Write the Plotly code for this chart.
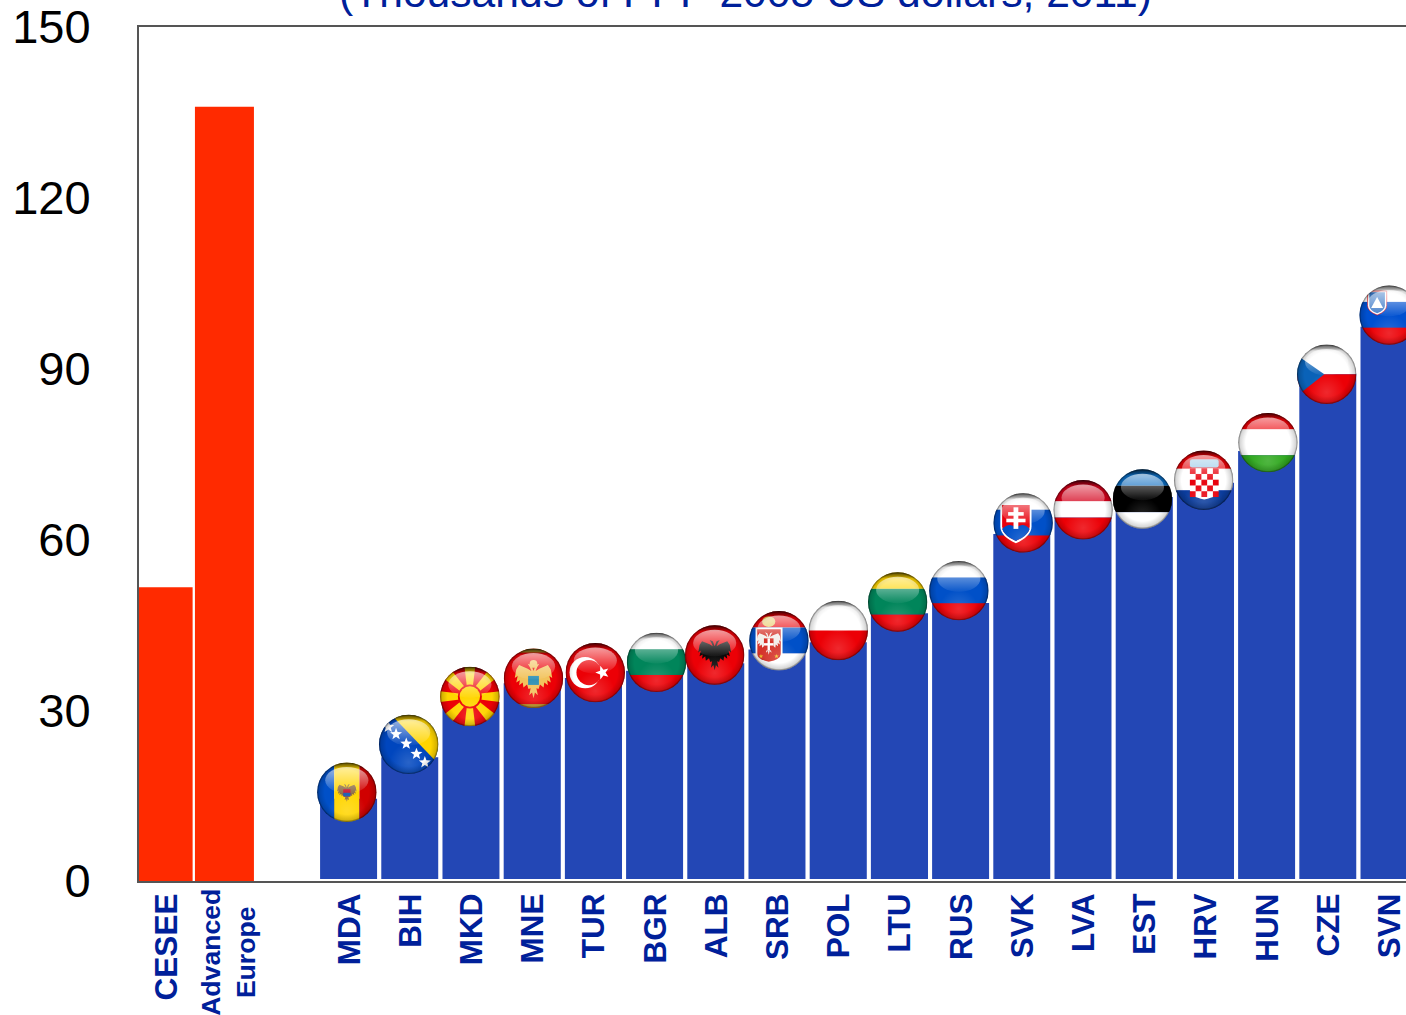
import base64, math
import plotly.graph_objects as go

# ---------- data ----------
aggregate_labels = ["CESEE", "Advanced<br>Europe"]
aggregate_values = [51.6, 136.0]
aggregate_pos = [-3.0, -2.03]
aggregate_width = [0.90, 0.964]

countries = ["MDA", "BIH", "MKD", "MNE", "TUR", "BGR", "ALB", "SRB", "POL",
             "LTU", "RUS", "SVK", "LVA", "EST", "HRV", "HUN", "CZE", "SVN"]
country_values = [14.8, 22.1, 31.8, 35.1, 36.0, 37.3, 38.6, 41.0, 42.3,
                  47.4, 49.2, 61.3, 64.4, 67.8, 70.3, 75.9, 89.5, 97.7]
flag_levels = [15.6, 24.0, 32.4, 35.6, 36.6, 38.4, 39.7, 42.2, 44.0,
               49.0, 51.0, 62.9, 65.2, 67.1, 70.4, 77.0, 89.0, 99.4]
flag_nudge = [-0.03, -0.02, -0.02, 0.02, 0.03, 0.03, -0.02, 0.03, 0.0,
              -0.03, -0.03, 0.02, 0.0, -0.03, -0.03, 0.02, -0.02, 0.0]
y_ticks = [0, 30, 60, 90, 120, 150]
subtitle = "(Thousands of PPP 2005 US dollars, 2011)"

NAVY = "#00209A"
RED, BLUE = "#FF2A00", "#2347B5"
F_RED, F_BLUE, F_YEL, F_GRN, F_WHT = "#EC0006", "#0050C8", "#FFD500", "#00855A", "#FFFFFF"


def star(cx, cy, r, fill="#fff", rot=-90):
    pts = []
    for k in range(10):
        rr = r if k % 2 == 0 else r * 0.42
        a = math.radians(rot + k * 36)
        pts.append(f"{cx + rr * math.cos(a):.2f},{cy + rr * math.sin(a):.2f}")
    return f'<polygon points="{" ".join(pts)}" fill="{fill}"/>'


def hstripes(*bands):
    out, y0 = "", 0
    for col, y1 in bands:
        out += f'<rect x="0" y="{y0}" width="100" height="{y1 - y0}" fill="{col}"/>'
        y0 = y1
    return out


def vstripes(*bands):
    out, x0 = "", 0
    for col, x1 in bands:
        out += f'<rect x="{x0}" y="0" width="{x1 - x0}" height="100" fill="{col}"/>'
        x0 = x1
    return out


EAGLE_HALF = [(0, -12), (-3, -20), (-8, -22), (-5, -17), (-3, -12), (-8, -15), (-20, -20),
              (-24, -14), (-26, -2), (-22, -5), (-24, 4), (-19, 1), (-20, 8), (-15, 4),
              (-14, 11), (-9, 7), (-7, 13), (-4, 12), (-6, 22), (-2, 18), (0, 26)]


def eagle(c, scale=1.0, cx=50, cy=48):
    pts = EAGLE_HALF + [(-x, y) for x, y in reversed(EAGLE_HALF[1:-1])]
    s = " ".join(f"{cx + x * scale:.2f},{cy + y * scale:.2f}" for x, y in pts)
    return f'<polygon points="{s}" fill="{c}"/>'


def rays():
    out = ""
    for k in range(8):
        out += (f'<polygon points="47,50 53,50 59,0 41,0" fill="{F_YEL}" '
                f'transform="rotate({k * 45} 50 50)"/>')
    return (out + f'<circle cx="50" cy="50" r="20" fill="{F_RED}"/>'
            f'<circle cx="50" cy="50" r="17" fill="{F_YEL}"/>')


def checker():
    out = '<path d="M27,30 H75 V66 Q75,78 51,82 Q27,78 27,66 Z" fill="#fff"/>'
    s = 9.6
    for r in range(5):
        for c in range(5):
            if (r + c) % 2 == 0:
                out += f'<rect x="{27 + c * s:.1f}" y="{30 + r * s:.1f}" width="{s}" height="{s}" fill="#E8000C"/>'
    return out + '<rect x="27" y="15" width="48" height="14" rx="4" fill="#9CCBE8"/>'


FLAGS = {
    "MDA": vstripes((F_BLUE, 29), (F_YEL, 71), ("#D00000", 100)) +
           eagle("#8C6B45", 0.62, 50, 50) +
           '<rect x="44" y="45" width="12" height="12" fill="#C8102E"/>'
           '<rect x="44" y="51" width="12" height="6" fill="#1A5FB4"/>',
    "BIH": f'<rect width="100" height="100" fill="#0046BE"/>'
           f'<polygon points="20,0 100,0 100,83" fill="{F_YEL}"/>' +
           "".join(star(x, y, 10.5) for x, y in [(16, 21), (29, 33), (46, 49), (63, 66), (77, 80)]),
    "MKD": f'<rect width="100" height="100" fill="{F_RED}"/>' + rays(),
    "MNE": f'<rect width="100" height="100" fill="{F_RED}"/>'
           '<rect width="100" height="7" fill="#C9A227"/><rect y="93" width="100" height="7" fill="#C9A227"/>'
           + eagle("#F2C25A", 1.2, 50, 52) + '<circle cx="50" cy="26" r="6.5" fill="#F2C25A"/>'
           '<rect x="41" y="46" width="18" height="15" fill="#2E8FB5"/>',
    "TUR": f'<rect width="100" height="100" fill="{F_RED}"/>'
           '<circle cx="33" cy="50" r="26" fill="#fff"/>'
           f'<circle cx="39.5" cy="50" r="21" fill="{F_RED}"/>'
           + star(62, 50, 12, rot=180),
    "BGR": hstripes((F_WHT, 28), (F_GRN, 71), (F_RED, 100)),
    "ALB": f'<rect width="100" height="100" fill="{F_RED}"/>' + eagle("#0A0A0A", 1.05, 50, 48),
    "SRB": hstripes((F_RED, 28), (F_BLUE, 71), (F_WHT, 100)) +
           '<path d="M11,28 H56 V72 Q56,84 33,88 Q11,84 11,72 Z" fill="#fff"/>'
           '<path d="M14,31 H53 V72 Q53,81 33,85 Q14,81 14,72 Z" fill="#D5332A"/>'
           + eagle("#F2EFEA", 0.78, 33, 53) +
           '<rect x="25" y="46" width="16" height="20" fill="#D5332A"/>'
           '<rect x="31" y="46" width="4" height="20" fill="#fff"/><rect x="25" y="54" width="16" height="4" fill="#fff"/>'
           + star(20, 76, 4, "#F2C230") + star(46, 76, 4, "#F2C230") +
           '<ellipse cx="33" cy="18" rx="11" ry="9" fill="#E8C860"/>',
    "POL": hstripes((F_WHT, 50), (F_RED, 100)),
    "LTU": hstripes((F_YEL, 28), (F_GRN, 71), (F_RED, 100)),
    "RUS": hstripes((F_WHT, 28), ("#0050C8", 71), (F_RED, 100)),
    "SVK": hstripes((F_WHT, 28), (F_BLUE, 71), (F_RED, 100)) +
           '<path d="M12,17 H64 V56 Q64,72 38,84 Q12,72 12,56 Z" fill="#fff"/>'
           '<path d="M15,20 H61 V56 Q61,70 38,80 Q15,70 15,56 Z" fill="#E8000C"/>'
           '<path d="M15,60 Q27,48 38,58 Q50,48 61,60 Q57,72 38,80 Q19,72 15,60 Z" fill="#0050C8"/>'
           '<rect x="34" y="24" width="8" height="36" fill="#fff"/>'
           '<rect x="25" y="32" width="26" height="6" fill="#fff"/><rect x="22" y="43" width="32" height="6" fill="#fff"/>',
    "LVA": hstripes(("#D4001A", 36), (F_WHT, 63), (F_RED, 100)),
    "EST": hstripes(("#0A6BC0", 28), ("#000", 72), (F_WHT, 100)),
    "HRV": hstripes((F_RED, 31), (F_WHT, 67), ("#0B3C9C", 100)) + checker(),
    "HUN": hstripes((F_RED, 28), (F_WHT, 71), ("#2FA81E", 100)),
    "CZE": hstripes((F_WHT, 50), (F_RED, 100)) +
           '<polygon points="0,18 46,50 0,86" fill="#0A62B8"/>',
    "SVN": hstripes((F_WHT, 28), ("#0050D0", 71), (F_RED, 100)) +
           '<path d="M14,10 H46 V34 Q46,44 30,50 Q14,44 14,34 Z" fill="#fff" stroke="#E8000C" stroke-width="1"/>'
           '<path d="M17,12 H43 V34 Q43,42 30,47 Q17,42 17,34 Z" fill="#3A78C8"/>'
           '<polygon points="30,20 40,38 20,38" fill="#fff"/>',
}


def flag_uri(code):
    svg = f'''<svg xmlns="http://www.w3.org/2000/svg" width="236" height="236" viewBox="0 0 100 100">
<defs>
<clipPath id="c"><circle cx="50" cy="50" r="49.5"/></clipPath>
<radialGradient id="e" cx="50" cy="50" r="50" gradientUnits="userSpaceOnUse">
<stop offset="0.74" stop-color="#000" stop-opacity="0"/><stop offset="0.93" stop-color="#000" stop-opacity="0.16"/>
<stop offset="1" stop-color="#000" stop-opacity="0.65"/></radialGradient>
<linearGradient id="t" x1="0" y1="0" x2="0" y2="1">
<stop offset="0" stop-color="#000" stop-opacity="0.6"/><stop offset="0.6" stop-color="#000" stop-opacity="0.3"/>
<stop offset="1" stop-color="#000" stop-opacity="0"/></linearGradient>
<linearGradient id="h" x1="0" y1="0" x2="0" y2="1">
<stop offset="0" stop-color="#fff" stop-opacity="0.62"/><stop offset="1" stop-color="#fff" stop-opacity="0.04"/></linearGradient>
<radialGradient id="g" cx="50" cy="80" r="32" gradientUnits="userSpaceOnUse">
<stop offset="0" stop-color="#fff" stop-opacity="0.16"/><stop offset="1" stop-color="#fff" stop-opacity="0"/></radialGradient>
</defs>
<g clip-path="url(#c)">{FLAGS[code]}
<rect width="100" height="100" fill="url(#g)"/>
<rect width="100" height="100" fill="url(#e)"/>
<rect width="100" height="11" fill="url(#t)"/>
<ellipse cx="50" cy="30" rx="36" ry="22" fill="url(#h)"/>
</g></svg>'''
    return "data:image/svg+xml;base64," + base64.b64encode(svg.encode()).decode()


positions = list(range(len(countries)))
fig = go.Figure()
fig.add_bar(x=aggregate_pos, y=aggregate_values, width=aggregate_width,
            marker=dict(color=RED, line=dict(width=0)))
fig.add_bar(x=positions, y=country_values, width=1.0, cliponaxis=False,
            marker=dict(color=BLUE, line=dict(color="white", width=4)))

images = []
for code, pos, nudge, lvl in zip(countries, positions, flag_nudge, flag_levels):
    images.append(dict(source=flag_uri(code), xref="x", yref="y", x=pos + nudge, y=lvl,
                       sizex=0.98, sizey=10.54, xanchor="center", yanchor="middle",
                       sizing="stretch", layer="above"))

FONT = "Liberation Sans"
tick_positions = [aggregate_pos[0] + 0.03] + [p + 0.012 for p in positions]
fig.update_layout(
    width=1412, height=1015, showlegend=False, barmode="overlay",
    paper_bgcolor="white", plot_bgcolor="white",
    margin=dict(l=139, r=0, t=27, b=134, pad=0),
    font=dict(family=FONT),
    images=images,
    xaxis=dict(range=[-3.426, 17.374], showgrid=False, zeroline=False, showline=True,
               linecolor="#555555", linewidth=2, mirror=True, ticks="", layer="below traces",
               tickmode="array", tickvals=tick_positions,
               ticktext=[f"<b>{t}</b>" for t in [aggregate_labels[0]] + countries],
               tickangle=-90, ticklabelstandoff=-2,
               tickfont=dict(family=FONT, size=31.5, color=NAVY)),
    yaxis=dict(range=[0, 150], showgrid=False, zeroline=False, showline=True,
               linecolor="#555555", linewidth=2, ticks="", tickmode="array", tickvals=y_ticks,
               ticklabelstandoff=37, tickfont=dict(family=FONT, size=47, color="black")),
    annotations=[
        dict(text=subtitle, xref="paper", yref="paper", x=0.4762, y=1, yanchor="bottom",
             yshift=9, showarrow=False, font=dict(family=FONT, size=42.6, color=NAVY)),
        dict(text=f"<b>{aggregate_labels[1].replace('<br>', '</b><br><b>')}</b>", xref="x", yref="paper",
             x=-1.956, y=-0.083, xanchor="center", yanchor="middle", textangle=-90,
             showarrow=False, align="center", font=dict(family=FONT, size=26.6, color=NAVY)),
    ],
)
fig.write_html("out.html", config=dict(displayModeBar=False),
               post_script="document.body.style.margin='0';document.body.style.overflow='hidden';")
